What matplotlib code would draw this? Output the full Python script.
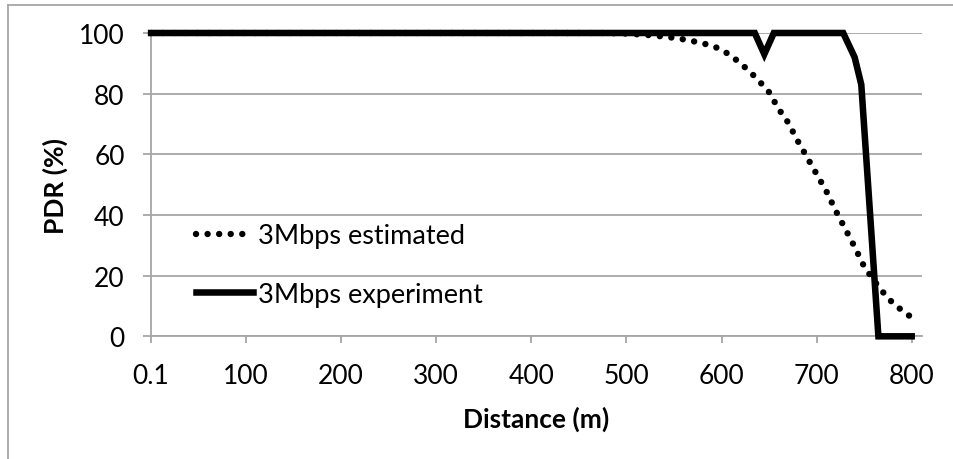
import matplotlib.pyplot as plt
from matplotlib.lines import Line2D

# Data
distance_est = [0.1, 10, 20, 30, 40, 50, 60, 70, 80, 90,
                100, 110, 120, 130, 140, 150, 160, 170, 180, 190,
                200, 210, 220, 230, 240, 250, 260, 270, 280, 290,
                300, 310, 320, 330, 340, 350, 360, 370, 380, 390,
                400, 410, 420, 430, 440, 450, 460, 470, 480, 490,
                500, 510, 520, 530, 540, 550, 560, 570, 580, 590,
                600, 610, 620, 630, 640, 650, 660, 670, 680, 690,
                700, 710, 720, 730, 740, 750, 760, 770, 780, 790, 800]
pdr_est = [100, 100, 100, 100, 100, 100, 100, 100, 100, 100,
           100, 100, 100, 100, 100, 100, 100, 100, 100, 100,
           100, 100, 100, 100, 100, 100, 100, 100, 100, 100,
           100, 100, 100, 100, 100, 100, 100, 100, 100, 100,
           100, 100, 100, 100, 100, 100, 100, 100, 100, 99.9,
           99.8, 99.6, 99.4, 99.1, 98.8, 98.4, 97.9, 97.3, 96.6, 95.8,
           94.5, 92.5, 90.0, 87.2, 84.0, 80.5, 75.0, 70.5, 64.5, 59.0,
           53.5, 48.0, 41.5, 35.5, 29.5, 23.0, 18.5, 14.5, 11.0, 8.5, 6.2]

distance_exp = [0.1, 635, 645, 655, 728, 740, 747, 765, 800]
pdr_exp = [100, 100, 93, 100, 100, 92, 83, 0, 0]

xticks = [0, 100, 200, 300, 400, 500, 600, 700, 800]
xtick_labels = ['0.1', '100', '200', '300', '400', '500', '600', '700', '800']
yticks = [0, 20, 40, 60, 80, 100]

plt.rcParams['font.family'] = ['Lato', 'DejaVu Sans']
grid_color = '#A6A6A6'

fig = plt.figure(figsize=(9.54, 4.6), dpi=100)
ax = fig.add_axes([0.1583, 0.2667, 0.8078, 0.6594])

# Outer chart border (top and left edges)
fig.add_artist(Line2D([8 / 954, 1.0], [1 - 6 / 460, 1 - 6 / 460], color=grid_color, lw=1.3))
fig.add_artist(Line2D([8 / 954, 8 / 954], [0.0, 1 - 6 / 460], color=grid_color, lw=1.3))

ax.plot(distance_est, pdr_est, color='black', lw=4.6, linestyle=(0, (0.01, 1.8)),
        dash_capstyle='round', label='3Mbps estimated', clip_on=False, zorder=3)
ax.plot(distance_exp, pdr_exp, color='black', lw=4.7, solid_joinstyle='miter',
        label='3Mbps experiment', clip_on=False, zorder=4)

ax.set_xlim(0, 810.5)
ax.set_ylim(0, 100)
ax.set_xticks(xticks)
ax.set_xticklabels(xtick_labels)
ax.set_yticks(yticks)

ax.yaxis.grid(True, color=grid_color, lw=1.3)
ax.set_axisbelow(True)
for side in ['top', 'right']:
    ax.spines[side].set_visible(False)
for side in ['left', 'bottom']:
    ax.spines[side].set_color(grid_color)
    ax.spines[side].set_linewidth(1.3)

ax.tick_params(axis='x', length=5, width=1.3, color=grid_color, labelsize=19, pad=14)
ax.tick_params(axis='y', length=6, width=1.3, color=grid_color, labelsize=19, pad=13)

ax.set_xlabel('Distance (m)', fontsize=19, fontweight='bold', labelpad=13)
ax.set_ylabel('PDR (%)', fontsize=19, fontweight='bold', labelpad=8)

ax.legend(loc='center left', bbox_to_anchor=(0.058, 0.235), bbox_transform=ax.transAxes,
          frameon=False, fontsize=19.5, handlelength=2.1, handletextpad=0.2,
          labelspacing=1.25, borderpad=0, borderaxespad=0)

fig.savefig('out.png', dpi=100)
